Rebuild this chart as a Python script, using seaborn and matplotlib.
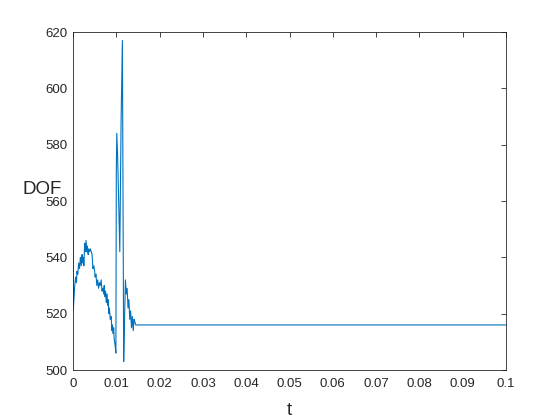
import matplotlib
matplotlib.use("Agg")
import matplotlib.pyplot as plt
import seaborn as sns
import pandas as pd

# time (s) and degrees of freedom
t = [0, 0.00005, 0.0002, 0.0004, 0.0006, 0.0008, 0.0009, 0.0011, 0.0013,
     0.0015, 0.0017, 0.0019, 0.0021, 0.0022, 0.0024, 0.0025, 0.0027, 0.0028,
     0.0030, 0.0032, 0.0033, 0.0035, 0.0036, 0.0038, 0.0040, 0.0042, 0.0044,
     0.0046, 0.0048, 0.0050, 0.0051, 0.0053, 0.0055, 0.0057, 0.0059, 0.0061,
     0.0063, 0.0065, 0.0067, 0.0069, 0.0071, 0.0072, 0.0074, 0.0075, 0.0077,
     0.0078, 0.0080, 0.0081, 0.0083, 0.0084, 0.0086, 0.0088, 0.0090, 0.0091,
     0.0092, 0.0094, 0.0095, 0.0097, 0.0099, 0.0100, 0.0101, 0.0103, 0.0106,
     0.0108, 0.0111, 0.0114, 0.0117, 0.0119, 0.0121, 0.0123, 0.0125, 0.0127,
     0.0129, 0.0131, 0.0133, 0.0135, 0.0137, 0.0139, 0.0141, 0.0143, 0.0145,
     0.1]
dof = [553, 521, 525, 530, 533, 531, 535, 534, 538, 536, 540, 537, 541, 538,
       540, 537, 545, 542, 546, 542, 544, 541, 543, 542, 543, 542, 541,
       536, 537, 535, 533, 534, 530, 532, 529, 531, 530, 532, 528, 529,
       527, 530, 526, 528, 524, 527, 523, 525, 520, 522, 518, 519, 514,
       516, 513, 515, 511, 509, 506, 570, 584, 576, 556, 542, 588, 617,
       503, 518, 532, 527, 529, 522, 525, 518, 521, 515, 519, 514, 518,
       517, 516, 516]

xticks = [0, 0.01, 0.02, 0.03, 0.04, 0.05, 0.06, 0.07, 0.08, 0.09, 0.1]
xticklabels = ["0", "0.01", "0.02", "0.03", "0.04", "0.05", "0.06", "0.07",
               "0.08", "0.09", "0.1"]
yticks = [500, 520, 540, 560, 580, 600, 620]

sns.set_style("white")
plt.rcParams["font.family"] = ["Liberation Sans", "DejaVu Sans"]

df = pd.DataFrame({"t": t, "DOF": dof})

fig = plt.figure(figsize=(5.6, 4.2), dpi=100)
ax = fig.add_axes([0.1304, 0.119, 0.7732, 0.8048])
sns.lineplot(data=df, x="t", y="DOF", estimator=None, sort=False,
             color="#0072BD", linewidth=0.8, ax=ax)

axcol = "#262626"
ax.set_xlim(0, 0.1)
ax.set_ylim(500, 620)
ax.set_xticks(xticks)
ax.set_xticklabels(xticklabels)
ax.set_yticks(yticks)
for s in ax.spines.values():
    s.set_visible(True)
    s.set_color(axcol)
    s.set_linewidth(0.6)
ax.tick_params(direction="in", top=True, right=True, length=3.5, width=0.6,
               colors=axcol, labelsize=9.5)
ax.tick_params(axis="x", pad=6)
ax.tick_params(axis="y", pad=4)

ax.set_xlabel("t", fontsize=13.5, color=axcol)
ax.set_ylabel("DOF", fontsize=13.5, color=axcol, rotation=0, ha="right", va="center")
ax.yaxis.set_label_coords(-0.025, 0.535)
ax.xaxis.set_label_coords(0.5, -0.095)

fig.savefig("out.png", dpi=100)
